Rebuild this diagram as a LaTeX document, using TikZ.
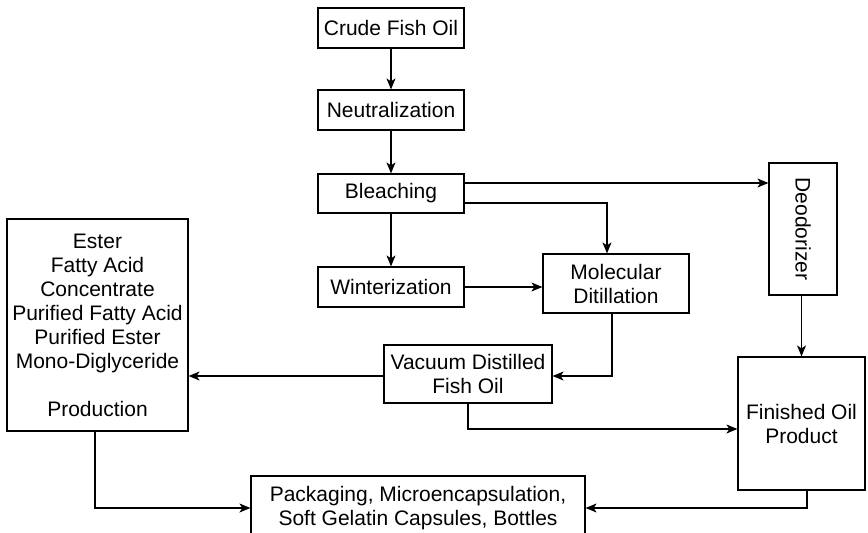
\documentclass[tikz,border=0pt]{standalone}
\usepackage{fontspec}
\setmainfont{Liberation Sans}
\usetikzlibrary{arrows.meta,calc}
\begin{document}
\begin{tikzpicture}[x=1pt,y=-1pt,
  box/.style={draw=black,line width=1.2pt,fill=white,align=center,inner sep=0pt,
    font=\fontsize{21}{24}\selectfont},
  conn/.style={line width=1.2pt,-{Stealth[length=11pt,width=9pt,inset=3pt]}},
  plain/.style={line width=1.2pt}]
\useasboundingbox[fill=white] (0,0) rectangle (868,533);
\node[box,minimum width=146pt,minimum height=40pt] (crude) at (391,28) {Crude Fish Oil};
\node[box,minimum width=146pt,minimum height=40pt] (neut) at (391,110) {Neutralization};
\node[box,minimum width=146pt,minimum height=39pt] (bleach) at (391,193.5) {Bleaching};
\node[box,minimum width=146pt,minimum height=40pt] (winter) at (391,287) {Winterization};
\node[box,minimum width=146pt,minimum height=59pt] (mol) at (616,283.5) {Molecular\\Ditillation};
\node[box,minimum width=68pt,minimum height=132pt] (deod) at (803,229) {};
\node[font=\fontsize{21}{24}\selectfont,rotate=-90] (deodtext) at (deod.center) {Deodorizer};
\node[box,minimum width=127pt,minimum height=133pt] (fin) at (801.5,423.5) {Finished Oil\\Product};
\node[box,minimum width=181pt,minimum height=212pt] (ester) at (97.5,325) {Ester\\Fatty Acid\\Concentrate\\Purified Fatty Acid\\Purified Ester\\Mono-Diglyceride\\[24pt]Production};
\node[box,minimum width=168pt,minimum height=58pt] (vac) at (468,374) {Vacuum Distilled\\Fish Oil};
\node[box,minimum width=334pt,minimum height=64pt] (pack) at (418,508) {Packaging, Microencapsulation,\\Soft Gelatin Capsules, Bottles};

\draw[conn] (crude) -- (neut);
\draw[conn] (neut) -- (bleach);
\draw[conn] (bleach) -- (winter);
\coordinate (b1) at ([yshift=10.5pt]bleach.east);
\draw[conn] (b1) -- (deod.west |- b1);
\coordinate (b2) at ([yshift=-9.5pt]bleach.east);
\coordinate (m1) at ([xshift=-9pt]mol.north);
\draw[conn] (b2) -| (m1);
\draw[conn] (winter.east) -- (winter.east -| mol.west);
\coordinate (m2) at ([xshift=-4pt]mol.south);
\draw[conn] (m2) |- ([yshift=-2pt]vac.east);
\draw[conn] ([yshift=-2pt]vac.west) -- ([yshift=-2pt]vac.west -| ester.east);
\draw[conn] (vac.south) |- ([yshift=-5.5pt]fin.west);
\draw[conn] (deod.south -| fin.north) -- (fin.north);
\coordinate (e1) at ([xshift=-2.5pt]ester.south);
\draw[conn] (e1) |- (pack.west);
\coordinate (f1) at ([xshift=5.5pt]fin.south);
\draw[conn] (f1) |- (pack.east);
\end{tikzpicture}
\end{document}
